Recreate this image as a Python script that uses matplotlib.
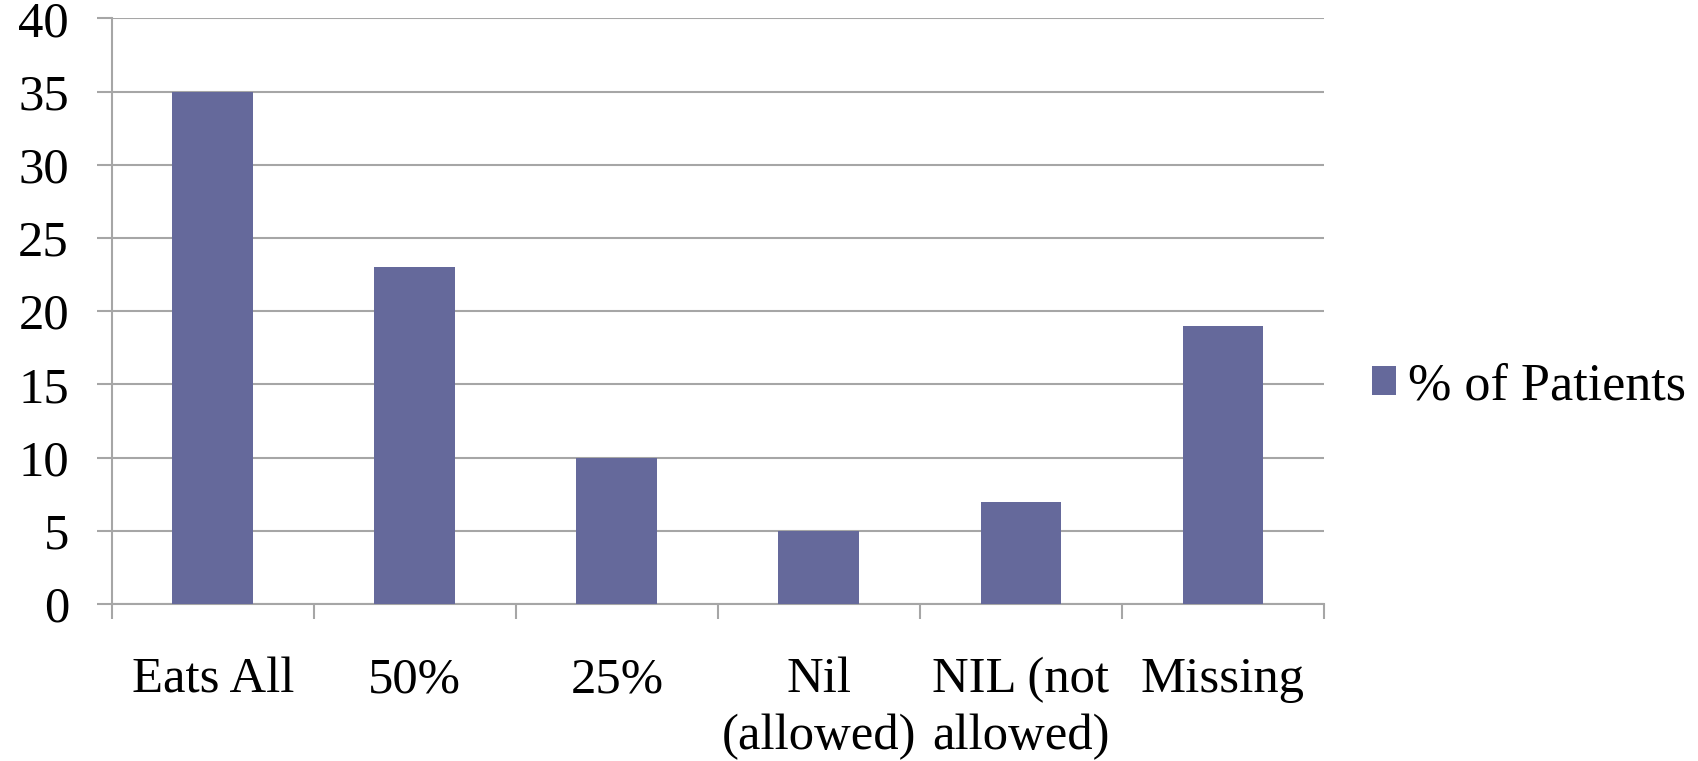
import matplotlib
matplotlib.use("Agg")
import matplotlib.pyplot as plt
import numpy as np

# Meal intake categories and share of patients in each
categories = ["Eats All", "50%", "25%", "Nil\n(allowed)", "NIL (not\nallowed)", "Missing"]
pct_patients = [35, 23, 10, 5, 7, 19]
series_name = "% of Patients"
y_ticks = [0, 5, 10, 15, 20, 25, 30, 35, 40]

bar_color = "#65699B"
grid_color = "#A6A6A6"

plt.rcParams["font.family"] = ["Liberation Serif", "DejaVu Serif"]

W, H = 1699, 761
fig = plt.figure(figsize=(W / 100, H / 100), dpi=100)
ax = fig.add_axes([111.7 / W, 1 - 604 / H, (1324 - 111.7) / W, (604 - 18.3) / H])

x = np.arange(len(categories))
ax.bar(x, pct_patients, width=0.4, color=bar_color, label=series_name, zorder=3)

ax.set_xlim(-0.5, len(categories) - 0.5)
ax.set_ylim(0, 40)
ax.set_yticks(y_ticks)
ax.set_yticklabels([str(v) for v in y_ticks])
ax.yaxis.grid(True, color=grid_color, linewidth=1.5, zorder=0)

# category labels centred on bars, tick marks at category boundaries
ax.set_xticks(x)
ax.set_xticklabels(categories, linespacing=1.3)
ax.set_xticks(np.arange(-0.5, len(categories)), minor=True)
ax.tick_params(axis="x", which="major", length=0, pad=38, labelsize=36.5)
ax.tick_params(axis="x", which="minor", length=10.5, width=1.5, color=grid_color, direction="out")
ax.tick_params(axis="y", length=10.8, width=1.5, color=grid_color, pad=20, labelsize=36.5)

for side in ["top", "right"]:
    ax.spines[side].set_visible(False)
ax.spines["left"].set_color(grid_color)
ax.spines["left"].set_linewidth(1.5)
ax.spines["bottom"].set_color(grid_color)
ax.spines["bottom"].set_linewidth(1.5)

fig.legend(loc="center left", bbox_to_anchor=(1372 / W, 1 - 386 / H),
           frameon=False, fontsize=37.5, handlelength=0.46, handleheight=0.5,
           handletextpad=0.24, borderpad=0, borderaxespad=0)

fig.savefig("out.png", dpi=100)
